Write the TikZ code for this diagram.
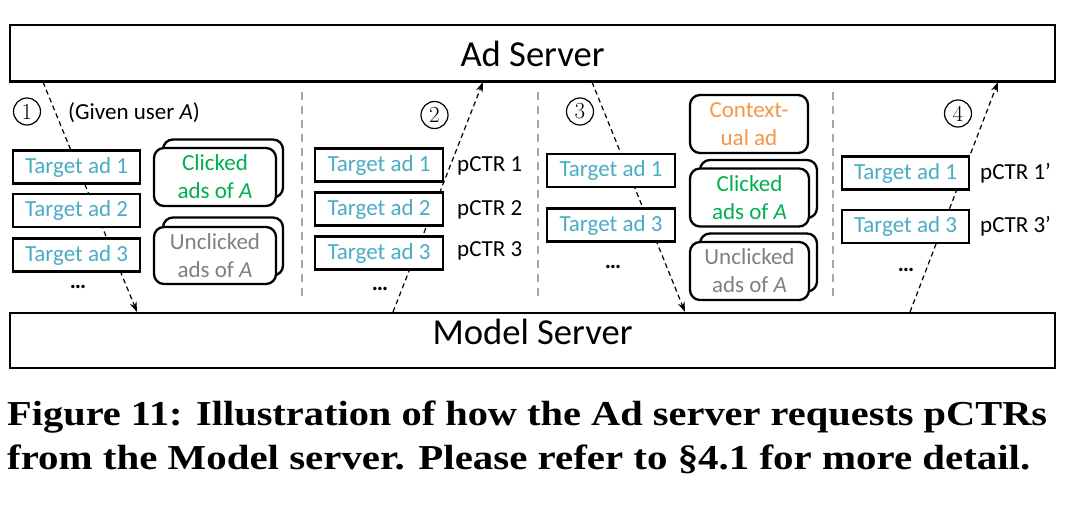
\documentclass[tikz,border=0pt]{standalone}
\usepackage{fontspec}
\usepackage{graphicx}
\setmainfont{Carlito}
\newfontfamily\capfont{Liberation Serif}
\newfontfamily\lmfont{Latin Modern Roman}
\usetikzlibrary{arrows.meta}
\definecolor{adcyan}{HTML}{4BACC6}
\definecolor{clickgreen}{HTML}{00B050}
\definecolor{ungray}{HTML}{808080}
\definecolor{ctxorange}{HTML}{F79646}
\definecolor{sepgray}{HTML}{A6A6A6}
\tikzset{
  server/.style={draw, line width=2.7pt, minimum width=1045pt, inner sep=0pt,
    font=\fontsize{36.6}{40}\selectfont},
  adbox/.style={draw, line width=2.3pt, fill=white, minimum width=127pt, minimum height=33pt,
    inner sep=0pt, text=adcyan, font=\fontsize{23}{26}\selectfont},
  stackbox/.style={draw, line width=2.3pt, fill=white, rounded corners=10pt,
    minimum width=121pt, minimum height=58pt, inner sep=0pt, align=center,
    font=\fontsize{23}{28}\selectfont},
  lbl/.style={font=\fontsize{23}{26}\selectfont, inner sep=0pt},
  num/.style={circle, draw, line width=1.2pt, minimum size=27pt, inner sep=0pt,
    font=\lmfont\fontsize{23}{24}\selectfont},
  flow/.style={line width=1.2pt, dash pattern=on 5pt off 3.5pt,
    -{Stealth[length=10pt,width=7pt]}},
  sepline/.style={draw=sepgray, line width=1.6pt, dash pattern=on 8pt off 6pt},
}
\begin{document}
\begin{tikzpicture}[x=1pt,y=-1pt]
\useasboundingbox (0,0) rectangle (1068,510);
% servers
\node[server, minimum height=56.7pt, text height=27pt, text depth=0pt] (ad) at (532.5,53.3) {Ad Server};
\node[server, minimum height=55pt, text height=27pt, text depth=18pt] (ms) at (532.5,340.5) {Model Server};
% separators
\coordinate (s1t) at (302,92); \coordinate (s1b) at (302,300);
\coordinate (s2t) at (538,92); \coordinate (s2b) at (538,300);
\coordinate (s3t) at (833,92); \coordinate (s3b) at (833,300);
\draw[sepline] (s1t) -- (s1b);
\draw[sepline] (s2t) -- (s2b);
\draw[sepline] (s3t) -- (s3b);
% arrow endpoints on servers
\coordinate (a1s) at (43,82);  \coordinate (a1e) at (137,312);
\coordinate (a2s) at (393,312); \coordinate (a2e) at (483,82);
\coordinate (a3s) at (592,82); \coordinate (a3e) at (685,312);
\coordinate (a4s) at (910,312); \coordinate (a4e) at (998,82);
\draw[flow] (a1s) -- (a1e);
\draw[flow] (a2s) -- (a2e);
\draw[flow] (a3s) -- (a3e);
\draw[flow] (a4s) -- (a4e);
% step numbers
\node[num] (n1) at (27,111.5) {1};
\node[num] (n2) at (434.5,115) {2};
\node[num] (n3) at (580,111.5) {3};
\node[num] (n4) at (958,113.5) {4};
% panel 1
\node[lbl, anchor=base west] (given) at (68,120) {(Given user \textit{A})};
\node[adbox] (p1a1) at (76.5,167) {Target ad 1};
\node[adbox] (p1a2) at (76.5,210.5) {Target ad 2};
\node[adbox] (p1a3) at (76.5,255) {Target ad 3};
\node[lbl, anchor=base] (p1d) at (78,289) {\textbf{…}};
\node[stackbox, minimum width=120pt] (p1cb) at (223,168.5) {};
\node[stackbox, text=clickgreen, minimum width=122pt] (p1c) at (215,177) {Clicked\\ads of \textit{A}};
\node[stackbox, minimum width=120pt] (p1ub) at (223,246.5) {};
\node[stackbox, text=ungray, minimum width=122pt, minimum height=57pt] (p1u) at (215,255.5) {Unclicked\\ads of \textit{A}};
% panel 2
\node[adbox, minimum width=128pt] (p2a1) at (379,165) {Target ad 1};
\node[adbox, minimum width=128pt] (p2a2) at (379,209) {Target ad 2};
\node[adbox, minimum width=128pt] (p2a3) at (379,253) {Target ad 3};
\node[lbl, anchor=west] (p2c1) at (457,166) {pCTR 1};
\node[lbl, anchor=west] (p2c2) at (457,210) {pCTR 2};
\node[lbl, anchor=west] (p2c3) at (457,251) {pCTR 3};
\node[lbl, anchor=base] (p2d) at (380,291) {\textbf{…}};
% panel 3
\node[adbox, minimum width=128pt] (p3a1) at (611,170.5) {Target ad 1};
\node[adbox, minimum width=128pt] (p3a3) at (611,225) {Target ad 3};
\node[lbl, anchor=base] (p3d) at (613,269) {\textbf{…}};
\node[stackbox, text=ctxorange, minimum width=118pt] (p3ctx) at (749,124) {Context-\\ual ad};
\node[stackbox, minimum width=117pt] (p3cb) at (758.5,189) {};
\node[stackbox, text=clickgreen, minimum width=119pt] (p3c) at (749.5,197.5) {Clicked\\ads of \textit{A}};
\node[stackbox, minimum width=117pt] (p3ub) at (758.5,262.5) {};
\node[stackbox, text=ungray, minimum width=119pt] (p3u) at (749.5,271) {Unclicked\\ads of \textit{A}};
% panel 4
\node[adbox] (p4a1) at (905.5,173) {Target ad 1};
\node[adbox] (p4a3) at (905.5,226.5) {Target ad 3};
\node[lbl, anchor=west] (p4c1) at (980,173) {pCTR 1’};
\node[lbl, anchor=west] (p4c3) at (980,226.5) {pCTR 3’};
\node[lbl, anchor=base] (p4d) at (906,272) {\textbf{…}};
% caption
\node[anchor=base west, inner sep=0pt] (cap1) at (7,425)
  {\resizebox{1040pt}{\height}{\capfont\bfseries\fontsize{35}{40}\selectfont Figure 11: Illustration of how the Ad server requests pCTRs}};
\node[anchor=base west, inner sep=0pt] (cap2) at (7,469)
  {\resizebox{1023pt}{\height}{\capfont\bfseries\fontsize{35}{40}\selectfont from the Model server. Please refer to §4.1 for more detail.}};
\end{tikzpicture}
\end{document}
